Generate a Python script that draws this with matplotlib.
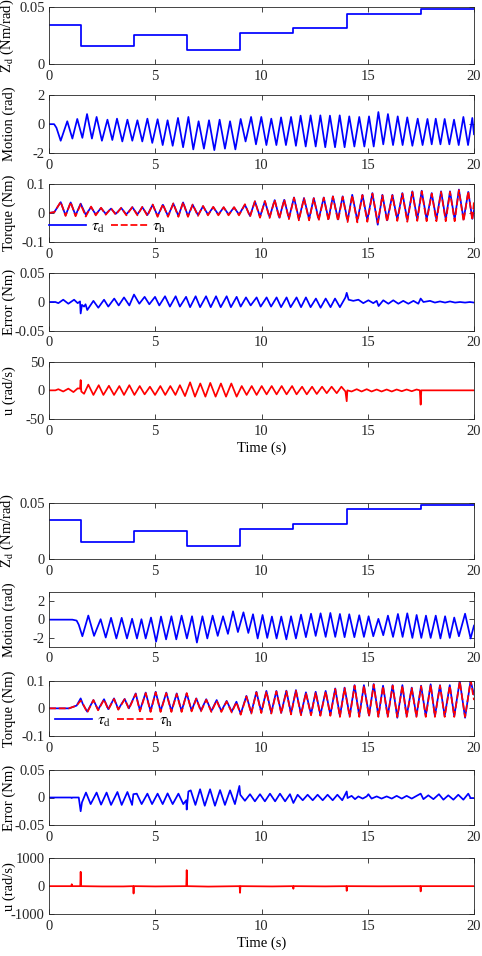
import numpy as np
import matplotlib
matplotlib.use("Agg")
import matplotlib.pyplot as plt
from matplotlib.ticker import FormatStrFormatter

plt.rcParams.update({
    "font.family": ["Liberation Serif", "DejaVu Serif"],
    "mathtext.fontset": "stix",
    "font.size": 10.5,
    "axes.unicode_minus": False,
    "axes.linewidth": 0.6,
    "axes.edgecolor": "#262626",
    "xtick.direction": "in",
    "ytick.direction": "in",
    "xtick.top": True,
    "ytick.right": True,
    "xtick.major.size": 3.5,
    "ytick.major.size": 3.5,
    "xtick.major.width": 0.6,
    "ytick.major.width": 0.6,
    "xtick.color": "#262626",
    "ytick.color": "#262626",
    "xtick.major.pad": 4,
    "ytick.major.pad": 3,
    "lines.linewidth": 1.25,
})

# ── Data ──────────────────────────────────────────────────────
# desired impedance: step changes (same in both runs)
zd_t = [0, 1.5, 4, 6.5, 9, 11.5, 14, 17.5, 20]
zd_v = [0.0345, 0.0155, 0.025, 0.012, 0.0272, 0.0316, 0.0442, 0.0482, 0.0482]

# run 1: (time, value) at turning points
motion1 = [(0, 0), (0.24, 0), (0.35, -0.25), (0.55, -1.15), (0.86, 0.2), (1.10, -1.0), (1.33, 0.36),
           (1.57, -0.95), (1.79, 0.7), (2.02, -1.0), (2.24, 0.5), (2.49, -1.15), (2.75, 0.31),
           (2.98, -1.1), (3.20, 0.38), (3.45, -1.2), (3.69, 0.31), (3.92, -1.15), (4.16, 0.27),
           (4.39, -1.2), (4.63, 0.38), (4.86, -1.3), (5.11, 0.34), (5.35, -1.45), (5.58, 0.27),
           (5.82, -1.5), (6.07, 0.43), (6.31, -1.6), (6.56, 0.5), (6.79, -1.75), (7.04, 0.2),
           (7.29, -1.7), (7.53, 0.27), (7.78, -1.8), (8.03, 0.31), (8.28, -1.7), (8.52, 0.2),
           (8.77, -1.75), (9.02, 0.36), (9.25, -1.2), (9.51, 0.5), (9.74, -1.4), (9.99, 0.5),
           (10.23, -1.45), (10.46, 0.38), (10.70, -1.45), (10.92, 0.47), (11.15, -1.45),
           (11.39, 0.5), (11.62, -1.5), (11.84, 0.59), (12.08, -1.55), (12.31, 0.61),
           (12.55, -1.55), (12.77, 0.61), (13.00, -1.6), (13.22, 0.59), (13.46, -1.6),
           (13.68, 0.61), (13.91, -1.6), (14.13, 0.54), (14.37, -1.55), (14.60, 0.5),
           (14.84, -1.55), (15.06, 0.54), (15.28, -1.55), (15.50, 0.84), (15.73, -1.4),
           (15.95, 0.7), (16.19, -1.45), (16.41, 0.54), (16.64, -1.45), (16.86, 0.47),
           (17.10, -1.5), (17.35, 0.38), (17.58, -1.45), (17.81, 0.36), (18.01, -1.4),
           (18.20, 0.38), (18.42, -1.4), (18.62, 0.36), (18.84, -1.4), (19.06, 0.31),
           (19.28, -1.45), (19.50, 0.5), (19.72, -1.45), (19.92, 0.43), (20.0, -0.7)]

# (time, tau_d, tau_h)
torque1 = [(0, 0, 0), (0.25, 0.003, 0.003), (0.55, 0.037, 0.038), (0.78, -0.008, -0.01),
           (1.02, 0.036, 0.037), (1.25, -0.008, -0.011), (1.49, 0.032, 0.03), (1.73, -0.006, -0.012),
           (1.98, 0.02, 0.022), (2.20, -0.005, -0.008), (2.45, 0.017, 0.018), (2.67, -0.003, -0.006),
           (2.92, 0.015, 0.016), (3.14, -0.003, -0.006), (3.40, 0.017, 0.018), (3.64, -0.005, -0.008),
           (3.92, 0.02, 0.02), (4.16, -0.005, -0.008), (4.39, 0.02, 0.021), (4.63, -0.007, -0.01),
           (4.88, 0.028, 0.029), (5.11, -0.01, -0.013), (5.36, 0.028, 0.03), (5.60, -0.01, -0.013),
           (5.85, 0.032, 0.033), (6.09, -0.01, -0.013), (6.31, 0.036, 0.037), (6.54, -0.01, -0.013),
           (6.76, 0.028, 0.029), (7.01, -0.007, -0.01), (7.25, 0.023, 0.024), (7.48, -0.005, -0.008),
           (7.73, 0.02, 0.021), (7.97, -0.005, -0.008), (8.22, 0.019, 0.02), (8.45, -0.005, -0.008),
           (8.71, 0.019, 0.02), (8.94, -0.005, -0.008), (9.22, 0.028, 0.03), (9.46, -0.01, -0.013),
           (9.69, 0.04, 0.04), (9.93, -0.013, -0.016), (10.16, 0.04, 0.041), (10.38, -0.014, -0.017),
           (10.62, 0.044, 0.045), (10.84, -0.016, -0.019), (11.07, 0.045, 0.046), (11.29, -0.018, -0.021),
           (11.53, 0.053, 0.052), (11.76, -0.021, -0.025), (12.0, 0.051, 0.05), (12.24, -0.021, -0.025),
           (12.46, 0.051, 0.05), (12.69, -0.021, -0.026), (12.93, 0.053, 0.052), (13.15, -0.021, -0.026),
           (13.36, 0.057, 0.056), (13.60, -0.022, -0.027), (13.82, 0.057, 0.055), (14.05, -0.026, -0.031),
           (14.27, 0.062, 0.06), (14.51, -0.026, -0.032), (14.75, 0.062, 0.061), (14.98, -0.024, -0.03),
           (15.22, 0.068, 0.066), (15.47, -0.04, -0.033), (15.69, 0.062, 0.06), (15.91, -0.025, -0.03),
           (16.16, 0.062, 0.06), (16.39, -0.022, -0.027), (16.63, 0.068, 0.066), (16.86, -0.024, -0.03),
           (17.10, 0.074, 0.072), (17.33, -0.022, -0.027), (17.54, 0.076, 0.074), (17.77, -0.022, -0.028),
           (18.01, 0.068, 0.066), (18.23, -0.022, -0.028), (18.45, 0.074, 0.072), (18.67, -0.022, -0.028),
           (18.87, 0.074, 0.072), (19.09, -0.022, -0.028), (19.29, 0.08, 0.078), (19.51, -0.022, -0.028),
           (19.73, 0.072, 0.074), (19.92, -0.02, -0.024), (20.0, 0.01, 0.04)]

error1 = [(0, 0), (0.30, 0), (0.44, -0.002), (0.67, 0.004), (0.91, -0.003), (1.18, 0.004),
          (1.35, -0.002), (1.46, 0.001), (1.49, -0.02), (1.55, -0.005), (1.65, -0.008), (1.72, -0.004),
          (1.80, -0.014), (2.09, 0.002), (2.32, -0.01), (2.59, 0.004), (2.79, -0.008), (3.07, 0.006),
          (3.28, -0.006), (3.53, 0.008), (3.78, -0.006), (4.0, 0.013), (4.25, -0.003), (4.50, 0.009),
          (4.72, -0.004), (4.99, 0.009), (5.19, -0.006), (5.46, 0.01), (5.69, -0.008), (5.96, 0.01),
          (6.16, -0.008), (6.45, 0.009), (6.64, -0.009), (6.90, 0.01), (7.11, -0.009), (7.39, 0.01),
          (7.61, -0.009), (7.86, 0.01), (8.08, -0.009), (8.36, 0.01), (8.56, -0.009), (8.83, 0.009),
          (9.02, -0.008), (9.27, 0.008), (9.49, -0.006), (9.77, 0.008), (9.96, -0.008), (10.24, 0.008),
          (10.45, -0.008), (10.71, 0.008), (10.92, -0.009), (11.18, 0.008), (11.37, -0.009),
          (11.65, 0.008), (11.86, -0.009), (12.09, 0.008), (12.31, -0.009), (12.56, 0.006),
          (12.78, -0.01), (13.02, 0.006), (13.25, -0.009), (13.46, 0.006), (13.69, -0.009),
          (13.95, 0.008), (14.01, 0.016), (14.10, 0.004), (14.32, 0.002), (14.56, 0.004),
          (14.79, -0.002), (15.03, 0.003), (15.26, -0.002), (15.42, 0.002), (15.51, -0.007),
          (15.73, 0.003), (15.97, -0.003), (16.20, 0.003), (16.44, -0.003), (16.67, 0.002),
          (16.91, -0.003), (17.15, 0.002), (17.38, -0.003), (17.49, 0.006), (17.62, 0.0),
          (17.93, 0.002), (18.16, -0.001), (18.40, 0.001), (18.64, -0.001), (18.87, 0.001),
          (19.11, -0.001), (19.34, 0.0), (19.58, -0.001), (19.81, 0.0), (20.0, -0.001)]

u1 = [(0, 0), (0.30, 0), (0.44, 2), (0.67, -2), (0.91, 3), (1.15, -3), (1.35, 3.5), (1.46, 3),
      (1.49, 18), (1.52, -2), (1.65, -6), (1.85, 10), (2.09, -8), (2.34, 9), (2.56, -8), (2.82, 8),
      (3.06, -8), (3.31, 7.5), (3.53, -8), (3.78, 9), (4.02, -8), (4.27, 7.5), (4.50, -7),
      (4.75, 6.4), (4.99, -8), (5.24, 7.5), (5.47, -8), (5.71, 7.5), (5.95, -8), (6.16, 9),
      (6.40, -10), (6.64, 14), (6.87, -11), (7.12, 12), (7.36, -11), (7.59, 13), (7.84, -11),
      (8.09, 12), (8.33, -11), (8.58, 12), (8.83, -11), (9.07, 7.5), (9.30, -8), (9.54, 7.5),
      (9.77, -8), (10.01, 7.5), (10.24, -7), (10.48, 7.5), (10.71, -7), (10.95, 7.5), (11.18, -7),
      (11.44, 7.5), (11.65, -7), (11.91, 6.4), (12.13, -7), (12.38, 6.4), (12.60, -6.4),
      (12.85, 6.4), (13.07, -5), (13.30, 6.4), (13.54, -5), (13.76, 6.4), (13.95, -2),
      (14.01, -19), (14.04, 0), (14.24, -2), (14.48, 2), (14.71, -2), (14.95, 2), (15.18, -2),
      (15.42, 1.5), (15.65, -2), (15.89, 1.5), (16.13, -2), (16.36, 1.5), (16.60, -1.5),
      (16.83, 1.5), (17.07, -1.5), (17.30, 1.5), (17.45, 0), (17.49, -25), (17.52, 0), (20.0, 0)]

# run 2
motion2 = [(0, -0.05), (1.1, -0.05), (1.30, -0.15), (1.40, -0.6), (1.57, -1.86), (1.85, 0.4),
           (2.12, -1.82), (2.43, 0.0), (2.67, -2.0), (2.92, 0.15), (3.17, -2.1), (3.42, 0.15),
           (3.67, -2.1), (3.91, 0.05), (4.14, -2.1), (4.35, 0.0), (4.55, -2.1), (4.80, 0.18),
           (5.04, -2.45), (5.27, 0.29), (5.51, -2.2), (5.76, 0.32), (5.99, -2.2), (6.24, 0.39),
           (6.49, -2.1), (6.73, 0.32), (6.96, -2.55), (7.22, 0.32), (7.45, -2.1), (7.70, 0.39),
           (7.94, -1.82), (8.19, 0.32), (8.42, -1.6), (8.66, 0.86), (8.89, -1.4), (9.15, 0.75),
           (9.38, -1.5), (9.60, 0.54), (9.82, -2.1), (10.05, 0.46), (10.27, -2.04), (10.49, 0.29),
           (10.71, -2.1), (10.93, 0.29), (11.17, -2.2), (11.39, 0.32), (11.62, -2.1), (11.86, 0.5),
           (12.09, -1.96), (12.33, 0.6), (12.55, -1.82), (12.78, 0.64), (13.02, -1.93), (13.24, 0.68),
           (13.47, -1.93), (13.69, 0.57), (13.91, -1.96), (14.13, 0.54), (14.37, -1.96), (14.60, 0.43),
           (14.82, -1.93), (15.04, 0.32), (15.26, -1.86), (15.50, 0.04), (15.73, -1.75), (15.95, 0.39),
           (16.19, -1.93), (16.42, 0.57), (16.64, -1.93), (16.86, 0.64), (17.10, -2.04), (17.30, 0.46),
           (17.52, -2.04), (17.74, 0.39), (17.96, -2.04), (18.20, 0.39), (18.42, -2.1), (18.64, 0.32),
           (18.86, -2.04), (19.07, 0.18), (19.29, -1.86), (19.58, 0.6), (19.84, -2.1), (20.0, -0.7)]

torque2 = [(0, 0, 0), (0.94, 0, 0), (1.30, 0.01, 0.01), (1.49, 0.036, 0.028), (1.60, 0.014, 0.016),
           (1.80, -0.012, -0.015), (2.09, 0.03, 0.03), (2.31, -0.005, -0.007), (2.59, 0.033, 0.032),
           (2.79, -0.003, -0.005), (3.06, 0.036, 0.034), (3.26, -0.003, -0.005), (3.56, 0.034, 0.033),
           (3.76, 0.0, -0.002), (4.08, 0.054, 0.052), (4.28, -0.008, -0.011), (4.55, 0.057, 0.055),
           (4.78, -0.01, -0.013), (5.02, 0.06, 0.058), (5.25, -0.01, -0.013), (5.52, 0.057, 0.055),
           (5.76, -0.01, -0.013), (6.01, 0.054, 0.052), (6.24, -0.01, -0.013), (6.48, 0.054, 0.055),
           (6.71, -0.008, -0.011), (6.93, 0.036, 0.035), (7.15, -0.008, -0.011), (7.40, 0.033, 0.031),
           (7.64, -0.01, -0.013), (7.89, 0.03, 0.028), (8.11, -0.01, -0.013), (8.36, 0.027, 0.025),
           (8.60, -0.012, -0.015), (8.82, 0.024, 0.022), (9.02, -0.02, -0.023), (9.29, 0.045, 0.043),
           (9.52, -0.016, -0.019), (9.76, 0.06, 0.058), (9.99, -0.014, -0.017), (10.23, 0.063, 0.061),
           (10.46, -0.016, -0.019), (10.70, 0.063, 0.061), (10.93, -0.016, -0.019), (11.17, 0.064, 0.062),
           (11.39, -0.019, -0.022), (11.62, 0.066, 0.064), (11.86, -0.022, -0.025), (12.09, 0.058, 0.056),
           (12.33, -0.022, -0.025), (12.55, 0.06, 0.058), (12.77, -0.024, -0.027), (13.02, 0.063, 0.061),
           (13.24, -0.024, -0.027), (13.47, 0.072, 0.07), (13.69, -0.028, -0.031), (13.91, 0.075, 0.073),
           (14.15, -0.028, -0.031), (14.38, 0.084, 0.082), (14.60, -0.028, -0.031), (14.82, 0.084, 0.082),
           (15.06, -0.026, -0.029), (15.28, 0.088, 0.086), (15.50, -0.028, -0.031), (15.72, 0.082, 0.08),
           (15.94, -0.028, -0.031), (16.17, 0.084, 0.082), (16.39, -0.034, -0.031), (16.63, 0.084, 0.082),
           (16.83, -0.028, -0.031), (17.07, 0.075, 0.073), (17.29, -0.028, -0.031), (17.51, 0.082, 0.08),
           (17.73, -0.028, -0.031), (17.96, 0.087, 0.085), (18.16, -0.028, -0.031), (18.40, 0.084, 0.082),
           (18.62, -0.028, -0.031), (18.86, 0.084, 0.082), (19.07, -0.028, -0.031), (19.33, 0.099, 0.097),
           (19.58, -0.034, -0.031), (19.84, 0.1, 0.1), (20.0, 0.05, 0.03)]

error2 = [(0, 0), (1.05, 0), (1.07, -0.001), (1.10, 0), (1.40, 0), (1.49, -0.025), (1.55, -0.009),
          (1.74, 0.009), (1.96, -0.012), (2.24, 0.009), (2.45, -0.013), (2.71, 0.009), (2.92, -0.0135),
          (3.22, 0.01), (3.42, -0.0135), (3.69, 0.01), (3.91, -0.0135), (3.97, 0.006), (4.13, 0.007),
          (4.36, -0.012), (4.63, 0.007), (4.85, -0.012), (5.11, 0.007), (5.35, -0.012), (5.58, 0.0075),
          (5.82, -0.012), (6.09, 0.007), (6.32, -0.012), (6.46, -0.005), (6.48, -0.022), (6.56, 0.011),
          (6.67, 0.013), (6.89, -0.0135), (7.11, 0.015), (7.33, -0.015), (7.58, 0.015), (7.81, -0.015),
          (8.05, 0.0135), (8.28, -0.0135), (8.52, 0.013), (8.75, -0.012), (8.96, 0.021), (9.0, 0.005),
          (9.22, -0.006), (9.46, 0.006), (9.69, -0.007), (9.93, 0.006), (10.16, -0.007), (10.40, 0.007),
          (10.64, -0.007), (10.87, 0.007), (11.11, -0.007), (11.34, 0.006), (11.50, -0.01), (11.70, 0.005),
          (11.94, -0.005), (12.17, 0.005), (12.41, -0.005), (12.64, 0.005), (12.88, -0.005), (13.11, 0.005),
          (13.35, -0.005), (13.57, 0.005), (13.80, -0.005), (14.01, 0.011), (14.05, -0.001), (14.24, 0.003),
          (14.40, -0.003), (14.56, 0.002), (14.76, -0.002), (14.95, 0.002), (15.03, 0.006), (15.18, -0.002),
          (15.42, 0.002), (15.65, -0.002), (15.89, 0.002), (16.13, -0.002), (16.36, 0.003), (16.60, -0.002),
          (16.83, 0.003), (17.07, -0.002), (17.30, 0.003), (17.49, 0.007), (17.62, -0.003), (17.85, 0.004),
          (18.09, -0.003), (18.35, 0.006), (18.56, -0.004), (18.79, 0.004), (19.03, -0.004), (19.26, 0.005),
          (19.50, -0.004), (19.73, 0.007), (19.84, -0.001), (20.0, -0.001)]

u2 = [(0, 0), (1.05, 0), (1.07, 70), (1.09, 0), (1.47, 0), (1.49, 515), (1.51, 0), (2.5, -10),
      (3.5, -10), (3.96, 0), (3.98, -265), (4.0, 0), (5.0, -10), (6.46, 0), (6.48, 575), (6.50, 0),
      (7.5, -15), (8.97, 0), (8.99, -240), (9.01, 0), (10.5, -10), (11.48, 0), (11.50, -95),
      (11.52, 0), (13, -8), (13.99, 0), (14.01, -170), (14.03, 0), (15.5, -5), (17.47, 0),
      (17.49, -190), (17.51, 0), (20, 0)]

motion_yticks = [[-2, 0, 2], [-2, 0, 2]]
motion_ylim = [(-2, 2), (-3, 3)]
u_ylim = [(-50, 50), (-1000, 1000)]
u_yticks = [[-50, 0, 50], [-1000, 0, 1000]]

# ── Layout (pixel rows of each panel: top, bottom) ────────────
W, H = 482, 956
LEFT, WIDTH = 49 / W, 425 / W
ROWS = [
    [(7, 64), (95.3, 153), (183.7, 242.3), (273.3, 330.7), (361.7, 419)],
    [(503, 559), (591.7, 646.7), (680.7, 736), (770, 825), (858.3, 914)],
]
BLUE, RED = "#0000ff", "#ff0000"


def cols(rows):
    a = np.array(rows, dtype=float)
    return [a[:, i] for i in range(a.shape[1])]


def make_ax(fig, top, bot):
    ax = fig.add_axes([LEFT, 1 - bot / H, WIDTH, (bot - top) / H])
    ax.set_xlim(0, 20)
    ax.set_xticks([0, 5, 10, 15, 20])
    ax.yaxis.set_major_formatter(FormatStrFormatter("%g"))
    ax.yaxis.set_label_coords(-0.078, 0.5)
    return ax


fig = plt.figure(figsize=(W / 100, H / 100), dpi=100)

runs = [(motion1, torque1, error1, u1), (motion2, torque2, error2, u2)]
for g, (motion, torque, err, u) in enumerate(runs):
    rows = ROWS[g]

    # Z_d
    ax = make_ax(fig, *rows[0])
    ax.step(zd_t, zd_v, where="post", color=BLUE)
    ax.set_ylim(0, 0.05)
    ax.set_yticks([0, 0.05])
    ax.set_ylabel(r"Z$_{\mathrm{d}}$ (Nm/rad)")

    # Motion
    ax = make_ax(fig, *rows[1])
    t, v = cols(motion)
    ax.plot(t, v, color=BLUE)
    ax.set_ylim(*motion_ylim[g])
    ax.set_yticks(motion_yticks[g])
    ax.set_ylabel("Motion (rad)")

    # Torque
    ax = make_ax(fig, *rows[2])
    t, td, th = cols(torque)
    ax.plot(t, td, color=BLUE, label=r"$\tau_{\mathrm{d}}$")
    ax.plot(t, th, color=RED, linestyle=(0, (4, 1.6)), label=r"$\tau_{\mathrm{h}}$")
    ax.set_ylim(-0.1, 0.1)
    ax.set_yticks([-0.1, 0, 0.1])
    ax.set_ylabel("Torque (Nm)")
    ax.legend(loc="center left", bbox_to_anchor=(0.0 + 0.015 * g, 0.27), ncol=2,
              frameon=False, handlelength=2.3, handletextpad=0.3, columnspacing=0.4,
              borderpad=0, borderaxespad=0, fontsize=11.5)

    # Error
    ax = make_ax(fig, *rows[3])
    t, v = cols(err)
    ax.plot(t, v, color=BLUE)
    ax.set_ylim(-0.05, 0.05)
    ax.set_yticks([-0.05, 0, 0.05])
    ax.set_ylabel("Error (Nm)")

    # Control input
    ax = make_ax(fig, *rows[4])
    t, v = cols(u)
    ax.plot(t, v, color=RED)
    ax.set_ylim(*u_ylim[g])
    ax.set_yticks(u_yticks[g])
    ax.set_ylabel("u (rad/s)")
    ax.set_xlabel("Time (s)", labelpad=3)

fig.savefig("out.png", dpi=100)
